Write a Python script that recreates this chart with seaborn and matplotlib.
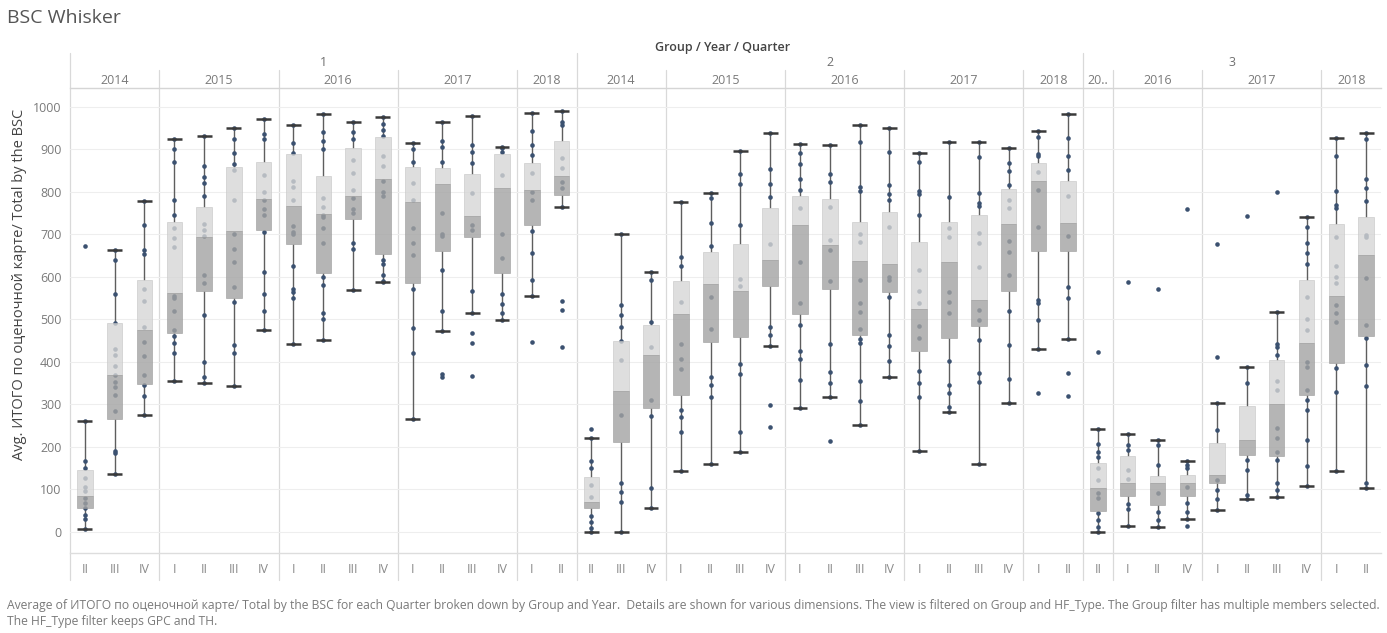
import numpy as np
import pandas as pd
import matplotlib
matplotlib.use("Agg")
import matplotlib.pyplot as plt
import matplotlib.transforms as mtransforms
import seaborn as sns

# ---------------- data ----------------
groups = ['1'] * 17 + ['2'] * 17 + ['3'] * 10
years = (['2014'] * 3 + ['2015'] * 4 + ['2016'] * 4 + ['2017'] * 4 + ['2018'] * 2) * 2 + \
        ['2014'] + ['2016'] * 3 + ['2017'] * 4 + ['2018'] * 2
quarters = (['II', 'III', 'IV'] + ['I', 'II', 'III', 'IV'] * 3 + ['I', 'II']) * 2 + \
           ['II'] + ['I', 'II', 'IV'] + ['I', 'II', 'III', 'IV'] + ['I', 'II']

whisker_lo = [7, 137, 275, 355, 350, 342, 475, 442, 450, 569, 588, 265, 473, 515, 498, 555, 765,
              0, 0, 55, 143, 159, 188, 438, 292, 318, 251, 363, 190, 281, 159, 303, 429, 454,
              0, 14, 10, 30, 51, 78, 82, 108, 144, 102]
q1 = [56, 265, 347, 468, 567, 549, 711, 678, 609, 736, 653, 586, 661, 694, 608, 722, 792,
      55, 212, 290, 322, 447, 459, 578, 512, 571, 463, 565, 426, 455, 485, 566, 661, 660,
      49, 85, 64, 85, 115, 180, 178, 322, 396, 460]
median = [83, 369, 475, 562, 694, 707, 783, 766, 747, 791, 829, 776, 817, 744, 808, 804, 837,
          70, 331, 417, 512, 583, 566, 639, 722, 675, 638, 629, 523, 635, 545, 723, 826, 726,
          104, 114, 114, 115, 133, 216, 300, 443, 555, 651]
q3 = [145, 490, 592, 729, 763, 857, 871, 889, 837, 904, 929, 857, 856, 842, 889, 868, 920,
      128, 449, 486, 590, 657, 678, 761, 790, 782, 729, 752, 681, 728, 745, 806, 867, 825,
      162, 179, 132, 133, 208, 296, 404, 592, 724, 741]
whisker_hi = [260, 663, 778, 925, 931, 951, 970, 957, 984, 963, 975, 915, 965, 979, 906, 986, 991,
              220, 700, 610, 775, 796, 895, 939, 912, 910, 956, 951, 892, 918, 918, 904, 943, 982,
              241, 231, 216, 167, 304, 388, 518, 740, 927, 937]

points = [
    [672, 260, 167, 149, 126, 106, 95, 79, 67, 57, 40, 30, 7],
    [663, 639, 559, 490, 431, 416, 390, 369, 353, 340, 322, 283, 191, 185, 137],
    [778, 722, 663, 653, 570, 544, 482, 447, 413, 369, 345, 319, 275],
    [925, 900, 870, 780, 745, 715, 690, 670, 555, 550, 520, 475, 460, 445, 420, 355],
    [931, 860, 835, 820, 790, 725, 710, 695, 605, 585, 510, 400, 365, 350],
    [951, 925, 890, 865, 850, 780, 700, 665, 635, 575, 540, 440, 420, 342],
    [970, 935, 925, 840, 800, 780, 760, 745, 705, 610, 560, 520, 475],
    [957, 915, 890, 825, 810, 780, 720, 705, 700, 625, 570, 565, 550, 442],
    [984, 940, 920, 900, 785, 765, 745, 740, 715, 680, 600, 580, 515, 500, 450],
    [963, 940, 925, 875, 845, 805, 785, 760, 750, 680, 665, 569],
    [975, 960, 945, 930, 885, 860, 825, 800, 790, 640, 630, 605, 590, 588],
    [915, 900, 870, 820, 780, 715, 680, 650, 570, 480, 420, 265],
    [965, 920, 905, 870, 750, 700, 695, 615, 520, 473, 370, 365],
    [979, 910, 894, 867, 797, 721, 709, 567, 515, 468, 445, 366],
    [906, 902, 894, 839, 700, 645, 560, 535, 515, 498],
    [986, 943, 910, 886, 843, 800, 780, 708, 656, 592, 555, 446],
    [991, 965, 957, 879, 855, 824, 808, 765, 544, 522, 434],
    [242, 220, 166, 149, 110, 82, 37, 24, 8, 0],
    [700, 533, 510, 482, 449, 404, 275, 114, 94, 71, 0],
    [610, 592, 494, 435, 310, 272, 102, 55],
    [775, 647, 625, 541, 442, 406, 384, 286, 271, 235, 143],
    [796, 786, 727, 673, 553, 476, 365, 345, 318, 159],
    [895, 841, 817, 722, 595, 577, 394, 371, 234, 188],
    [939, 853, 817, 788, 678, 482, 463, 438, 298, 247],
    [912, 890, 865, 831, 804, 761, 635, 537, 486, 425, 406, 357, 292],
    [910, 842, 824, 765, 687, 663, 590, 442, 377, 351, 318, 213],
    [956, 918, 812, 801, 700, 682, 592, 537, 518, 476, 453, 443, 354, 308, 251],
    [951, 894, 816, 795, 780, 716, 600, 593, 553, 463, 437, 402, 363],
    [892, 871, 802, 795, 745, 616, 566, 537, 484, 455, 379, 349, 318, 190],
    [918, 788, 714, 694, 565, 541, 515, 402, 345, 327, 294, 281],
    [918, 882, 798, 773, 767, 704, 679, 624, 522, 498, 451, 374, 353, 159],
    [904, 868, 849, 816, 780, 761, 685, 659, 604, 520, 439, 359, 303],
    [943, 929, 888, 884, 847, 804, 716, 545, 537, 498, 429, 326],
    [982, 927, 884, 851, 790, 696, 575, 551, 454, 373, 319],
    [424, 241, 206, 188, 175, 151, 122, 90, 79, 43, 27, 12, 0],
    [588, 231, 204, 192, 145, 123, 65, 53, 14],
    [571, 216, 204, 157, 90, 47, 27, 10],
    [759, 167, 157, 151, 106, 67, 47, 30, 14],
    [678, 410, 304, 239, 122, 98, 78, 51],
    [743, 388, 351, 169, 145, 86, 78],
    [799, 518, 441, 435, 417, 355, 333, 243, 220, 188, 168, 114, 98, 82],
    [740, 716, 679, 655, 630, 553, 500, 475, 400, 388, 333, 310, 286, 216, 155, 108],
    [927, 884, 802, 769, 761, 693, 625, 600, 586, 533, 514, 494, 385, 329, 144],
    [937, 923, 831, 808, 778, 698, 694, 596, 486, 455, 392, 343, 115, 102],
]

yticks = list(range(0, 1001, 100))
title = "BSC Whisker"
header = "Group / Year / Quarter"
y_title = "Avg. ИТОГО по оценочной карте/ Total by the BSC"
caption1 = ("Average of ИТОГО по оценочной карте/ Total by the BSC for each Quarter broken down by Group and Year.  "
            "Details are shown for various dimensions. The view is filtered on Group and HF_Type. "
            "The Group filter has multiple members selected.")
caption2 = "The HF_Type filter keeps GPC and TH."

# ---------------- styling ----------------
sns.set_theme(style="white")
plt.rcParams['font.family'] = ['Open Sans', 'DejaVu Sans']

W, H = 1387, 633
fig = plt.figure(figsize=(W / 100, H / 100), dpi=100)
ax_left, ax_right, ax_top, ax_bottom = 70, 1381, 88, 553
ax = fig.add_axes([ax_left / W, 1 - ax_bottom / H, (ax_right - ax_left) / W, (ax_bottom - ax_top) / H])

keys = [f"{g}/{y}/{q}" for g, y, q in zip(groups, years, quarters)]
rows = []
for k, vals in zip(keys, points):
    for v in vals:
        rows.append({"slot": k, "value": v})
df = pd.DataFrame(rows)

n = len(keys)
pos = np.arange(n)

# whiskers
ax.vlines(pos, whisker_lo, q1, color="#5e5e5e", lw=1.0, zorder=1)
ax.vlines(pos, q3, whisker_hi, color="#5e5e5e", lw=1.0, zorder=1)

# dots
sns.stripplot(data=df, x="slot", y="value", order=keys, jitter=False, color="#3b5170",
              size=3.3, linewidth=0, ax=ax, zorder=2)

# two-tone boxes
med_a = np.array(median); q1_a = np.array(q1); q3_a = np.array(q3)
ax.bar(pos, q3_a - med_a, bottom=med_a, width=0.52, color="#d6d6d6", alpha=0.8,
       edgecolor="#c4c4c4", linewidth=0.5, zorder=3)
ax.bar(pos, med_a - q1_a, bottom=q1_a, width=0.52, color="#a3a3a3", alpha=0.8,
       edgecolor="#9a9a9a", linewidth=0.5, zorder=3)

# caps
ax.hlines(whisker_lo, pos - 0.25, pos + 0.25, color="#3a3a3a", lw=1.8, zorder=4)
ax.hlines(whisker_hi, pos - 0.25, pos + 0.25, color="#3a3a3a", lw=1.8, zorder=4)

ax.set_xlim(-0.5, n - 0.5)
ax.set_ylim(-50, 1044)
ax.set_yticks(yticks)
ax.set_yticklabels([str(t) for t in yticks], color="#7a7a7a", fontsize=9)
ax.set_xticks(pos)
ax.set_xticklabels(quarters, color="#8a8a8a", fontsize=9)
ax.tick_params(axis="both", length=0)
ax.tick_params(axis="x", pad=7)
ax.tick_params(axis="y", pad=6)
ax.set_xlabel("")
ax.set_ylabel("")
ax.yaxis.grid(True, color="#eeeeee", lw=0.8, zorder=0)
ax.xaxis.grid(False)
for s in ["left", "right"]:
    ax.spines[s].set_visible(False)
ax.spines["top"].set_color("#d5d5d5")
ax.spines["top"].set_linewidth(1.0)
ax.spines["bottom"].set_color("#dddddd")
ax.spines["bottom"].set_linewidth(1.0)

# dividers and header labels
ax_h = ax_bottom - ax_top
below = -(580 - ax_bottom) / ax_h
grp_top = (ax_bottom - 53) / ax_h
yr_top = (ax_bottom - 70) / ax_h
trans = mtransforms.blended_transform_factory(ax.transData, ax.transAxes)

i = 0
while i < n:
    j = i
    while j < n and groups[j] == groups[i]:
        j += 1
    ax.axvline(i - 0.5, ymin=below, ymax=grp_top, color="#d9d9d9", lw=0.9, clip_on=False, zorder=0)
    ax.text((i + j - 1) / 2, (ax_bottom - 63) / ax_h, groups[i], transform=trans,
            ha="center", va="center", fontsize=9, color="#707070")
    k = i
    while k < j:
        m = k
        while m < j and years[m] == years[k]:
            m += 1
        if k != i:
            ax.axvline(k - 0.5, ymin=below, ymax=yr_top, color="#d9d9d9", lw=0.9,
                       clip_on=False, zorder=0)
        label = years[k] if m - k > 1 else years[k][:2] + ".."
        ax.text((k + m - 1) / 2, (ax_bottom - 80) / ax_h, label, transform=trans,
                ha="center", va="center", fontsize=9, color="#7a7a7a")
        k = m
    i = j

fig.text(723 / W, 1 - 48 / H, header, ha="center", va="center", fontsize=9, color="#444444",
         fontweight="semibold")
fig.text(7 / W, 1 - 18 / H, title, ha="left", va="center", fontsize=14, color="#555555")
fig.text(20 / W, 1 - 284 / H, y_title, rotation=90, ha="center", va="center", fontsize=10.5,
         color="#444444")
fig.text(7 / W, 1 - 605 / H, caption1, ha="left", va="center", fontsize=8.7, color="#7a7a7a")
fig.text(7 / W, 1 - 621 / H, caption2, ha="left", va="center", fontsize=8.7, color="#7a7a7a")

fig.savefig("out.png", dpi=100, facecolor="white")
